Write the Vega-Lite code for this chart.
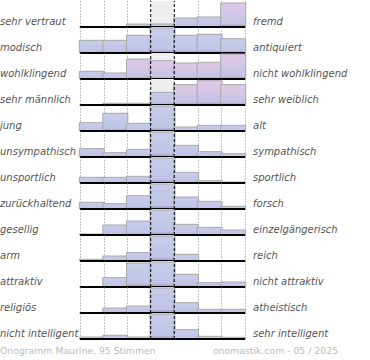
{
  "$schema": "https://vega.github.io/schema/vega-lite/v6.json",
  "padding": 0,
  "background": "white",
  "config": {"view": {"stroke": null}, "font": "DejaVu Sans"},
  "datasets": {
    "pairs": [
      {"r": 1, "left": "sehr vertraut", "right": "fremd"},
      {"r": 2, "left": "modisch", "right": "antiquiert"},
      {"r": 3, "left": "wohlklingend", "right": "nicht wohlklingend"},
      {"r": 4, "left": "sehr männlich", "right": "sehr weiblich"},
      {"r": 5, "left": "\u00a0jung", "right": "alt"},
      {"r": 6, "left": "unsympathisch", "right": "sympathisch"},
      {"r": 7, "left": "unsportlich", "right": "sportlich"},
      {"r": 8, "left": "zurückhaltend", "right": "forsch"},
      {"r": 9, "left": "gesellig", "right": "einzelgängerisch"},
      {"r": 10, "left": "arm", "right": "reich"},
      {"r": 11, "left": "attraktiv", "right": "nicht attraktiv"},
      {"r": 12, "left": "religiös", "right": "atheistisch"},
      {"r": 13, "left": "nicht intelligent", "right": "sehr intelligent"}
    ]
  },
  "data": {"values": [
    {"r":1,"c":1,"v":0},{"r":1,"c":2,"v":0},{"r":1,"c":3,"v":3},{"r":1,"c":4,"v":3},{"r":1,"c":5,"v":9},{"r":1,"c":6,"v":10},{"r":1,"c":7,"v":24},
    {"r":2,"c":1,"v":12.7},{"r":2,"c":2,"v":12.7},{"r":2,"c":3,"v":17.7},{"r":2,"c":4,"v":25},{"r":2,"c":5,"v":17.7},{"r":2,"c":6,"v":18.7},{"r":2,"c":7,"v":14.3},
    {"r":3,"c":1,"v":7.7},{"r":3,"c":2,"v":6},{"r":3,"c":3,"v":20},{"r":3,"c":4,"v":18.3},{"r":3,"c":5,"v":16},{"r":3,"c":6,"v":16.7},{"r":3,"c":7,"v":25},
    {"r":4,"c":1,"v":0},{"r":4,"c":2,"v":1.7},{"r":4,"c":3,"v":1.7},{"r":4,"c":4,"v":12.7},{"r":4,"c":5,"v":20.3},{"r":4,"c":6,"v":24.3},{"r":4,"c":7,"v":20.3},
    {"r":5,"c":1,"v":8.3},{"r":5,"c":2,"v":17.7},{"r":5,"c":3,"v":7.7},{"r":5,"c":4,"v":25},{"r":5,"c":5,"v":4},{"r":5,"c":6,"v":5.7},{"r":5,"c":7,"v":5.7},
    {"r":6,"c":1,"v":8.3},{"r":6,"c":2,"v":4.3},{"r":6,"c":3,"v":7.7},{"r":6,"c":4,"v":25},{"r":6,"c":5,"v":11.7},{"r":6,"c":6,"v":5.3},{"r":6,"c":7,"v":3.3},
    {"r":7,"c":1,"v":5.7},{"r":7,"c":2,"v":5.7},{"r":7,"c":3,"v":6.7},{"r":7,"c":4,"v":25},{"r":7,"c":5,"v":10.7},{"r":7,"c":6,"v":2.3},{"r":7,"c":7,"v":1},
    {"r":8,"c":1,"v":6.7},{"r":8,"c":2,"v":5.3},{"r":8,"c":3,"v":13.3},{"r":8,"c":4,"v":25},{"r":8,"c":5,"v":12},{"r":8,"c":6,"v":7.7},{"r":8,"c":7,"v":2.7},
    {"r":9,"c":1,"v":1},{"r":9,"c":2,"v":10},{"r":9,"c":3,"v":14},{"r":9,"c":4,"v":25},{"r":9,"c":5,"v":10.7},{"r":9,"c":6,"v":7.7},{"r":9,"c":7,"v":5},
    {"r":10,"c":1,"v":1.7},{"r":10,"c":2,"v":5},{"r":10,"c":3,"v":8.3},{"r":10,"c":4,"v":25},{"r":10,"c":5,"v":6.7},{"r":10,"c":6,"v":0},{"r":10,"c":7,"v":0},
    {"r":11,"c":1,"v":0},{"r":11,"c":2,"v":9.3},{"r":11,"c":3,"v":24},{"r":11,"c":4,"v":25},{"r":11,"c":5,"v":12.7},{"r":11,"c":6,"v":4.3},{"r":11,"c":7,"v":5},
    {"r":12,"c":1,"v":0},{"r":12,"c":2,"v":5},{"r":12,"c":3,"v":7},{"r":12,"c":4,"v":25},{"r":12,"c":5,"v":10.3},{"r":12,"c":6,"v":3.7},{"r":12,"c":7,"v":3.7},
    {"r":13,"c":1,"v":2},{"r":13,"c":2,"v":3.7},{"r":13,"c":3,"v":2},{"r":13,"c":4,"v":25},{"r":13,"c":5,"v":9.3},{"r":13,"c":6,"v":2.7},{"r":13,"c":7,"v":1.7}
  ]},
  "transform": [
    {"lookup": "r", "from": {"data": {"name": "pairs"}, "key": "r", "fields": ["left", "right"]}}
  ],
  "facet": {"row": {"field": "r", "type": "ordinal", "title": null, "header": {"labels": false, "title": null, "labelPadding": 0, "titlePadding": 0}}},
  "spacing": {"row": 0},
  "bounds": "flush",
  "spec": {
    "width": 175,
    "height": 26,
    "encoding": {
      "x": {"field": "c", "type": "quantitative", "scale": {"domain": [0.5, 7.5], "nice": false, "zero": false},
            "axis": {"title": null, "labels": false, "ticks": false, "domain": false, "grid": true, "values": [0.5, 1.5, 2.5, 5.5, 6.5, 7.5], "gridDash": [1, 2], "gridColor": "#888", "gridWidth": 1, "gridOpacity": 1}},
      "y": {"field": "v", "type": "quantitative", "scale": {"domain": [0, 26], "nice": false}, "axis": null}
    },
    "layer": [
      {
        "transform": [{"filter": "datum.c == 1"}],
        "mark": {"type": "rect", "fill": "#eeeeee"},
        "encoding": {"x": {"datum": 3.5}, "x2": {"datum": 4.5}, "y": {"datum": 0}, "y2": {"datum": 26}}
      },
      {
        "mark": {"type": "bar", "width": 25, "stroke": "#a8a8a8", "strokeWidth": 1},
        "encoding": {
          "color": {
            "condition": {
              "test": "(datum.r == 1 && datum.c == 7) || (datum.r == 3 && datum.c >= 3) || (datum.r == 4 && datum.c >= 5)",
              "value": {"gradient": "linear", "x1": 0, "y1": 0, "x2": 0, "y2": 1, "stops": [{"offset": 0, "color": "#e0c8e6"}, {"offset": 0.55, "color": "#d0c6e6"}, {"offset": 0.88, "color": "#c2c3e4"}, {"offset": 1, "color": "#9a8bc4"}]}
            },
            "value": {"gradient": "linear", "x1": 0, "y1": 0, "x2": 0, "y2": 1, "stops": [{"offset": 0, "color": "#c8cdea"}, {"offset": 0.85, "color": "#c1c4e5"}, {"offset": 1, "color": "#9a8bc4"}]}
          }
        }
      },
      {
        "transform": [{"filter": "datum.c == 1"}],
        "mark": {"type": "rule", "color": "black", "strokeDash": [3, 2], "strokeWidth": 1},
        "encoding": {"x": {"datum": 3.5}, "y": {"datum": 0}, "y2": {"datum": 26}}
      },
      {
        "transform": [{"filter": "datum.c == 1"}],
        "mark": {"type": "rule", "color": "black", "strokeDash": [3, 2], "strokeWidth": 1},
        "encoding": {"x": {"datum": 4.5}, "y": {"datum": 0}, "y2": {"datum": 26}}
      },
      {
        "transform": [{"filter": "datum.c == 1"}],
        "mark": {"type": "rule", "color": "black", "strokeWidth": 2},
        "encoding": {"x": {"datum": 0.5}, "x2": {"datum": 7.5}, "y": {"datum": 0}}
      },
      {
        "transform": [{"filter": "datum.c == 1"}],
        "mark": {"type": "text", "align": "left", "baseline": "alphabetic", "dx": -80, "dy": -2, "fontSize": 10, "fontStyle": "italic", "color": "#555555"},
        "encoding": {"x": {"datum": 0.5}, "y": {"datum": 0}, "text": {"field": "left"}}
      },
      {
        "transform": [{"filter": "datum.c == 1"}],
        "mark": {"type": "text", "align": "left", "baseline": "alphabetic", "dx": 8, "dy": -2, "fontSize": 10, "fontStyle": "italic", "color": "#555555"},
        "encoding": {"x": {"datum": 7.5}, "y": {"datum": 0}, "text": {"field": "right"}}
      },
      {
        "transform": [{"filter": "datum.c == 1 && datum.r == 13"}],
        "mark": {"type": "text", "align": "left", "baseline": "alphabetic", "dx": -80, "dy": 15, "fontSize": 9.3, "color": "#bbbbbb"},
        "encoding": {"x": {"datum": 0.5}, "y": {"datum": 0}, "text": {"value": "Onogramm Maurine, 95 Stimmen"}}
      },
      {
        "transform": [{"filter": "datum.c == 1 && datum.r == 13"}],
        "mark": {"type": "text", "align": "right", "baseline": "alphabetic", "dx": 93, "dy": 15, "fontSize": 9.3, "color": "#bbbbbb"},
        "encoding": {"x": {"datum": 7.5}, "y": {"datum": 0}, "text": {"value": "onomastik.com - 05 / 2025"}}
      }
    ]
  }
}
